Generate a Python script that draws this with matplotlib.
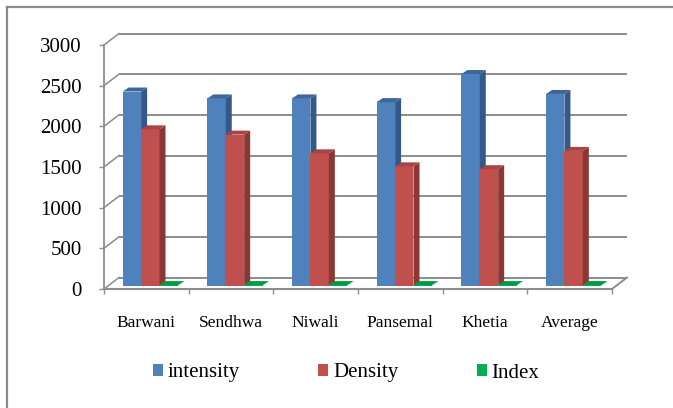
import matplotlib.pyplot as plt
from matplotlib.patches import Polygon, Rectangle, Patch

# --- chart data ---
categories = ['Barwani', 'Sendhwa', 'Niwali', 'Pansemal', 'Khetia', 'Average']
intensity = [2385, 2300, 2300, 2255, 2600, 2355]
density = [1920, 1855, 1625, 1465, 1430, 1655]
index = [5, 5, 5, 5, 5, 5]
series_names = ['intensity', 'Density', 'Index']
yticks = [0, 500, 1000, 1500, 2000, 2500, 3000]

# face colours: front, side, top
colors = {
    'intensity': ('#4F81BD', '#34588A', '#3F6698'),
    'Density': ('#C0504D', '#8A3735', '#A64542'),
    'Index': ('#00B050', '#00833B', '#009A45'),
}
grid_c = '#8C8C8C'

W, H = 673, 408
fig = plt.figure(figsize=(W / 100, H / 100), dpi=100)
plt.rcParams['font.family'] = 'Liberation Serif'

# plot area (front plane) in pixels
x0, x1 = 104, 612
y0, y1 = 289, 45
ax = fig.add_axes([x0 / W, 1 - y0 / H, (x1 - x0) / W, (y0 - y1) / H])
ax.set_xlim(0, 6)
ax.set_ylim(0, 3000)
ax.patch.set_visible(False)

px_x = 6 / (x1 - x0)        # data units per pixel (x)
px_y = 3000 / (y0 - y1)     # data units per pixel (y)

# depth of the wall and of each bar
wall_dx, wall_dy = 15 * px_x, 11.5 * px_y
bar_dx, bar_dy = 6 * px_x, 4 * px_y
bar_base = 3.5 * px_y
bar_w = 18.4 * px_x
bar_off = 18.7 * px_x

# back wall gridlines, side wall lines and floor
for v in yticks:
    ax.plot([wall_dx, 6 + wall_dx], [v + wall_dy, v + wall_dy], color=grid_c, lw=1.4,
            clip_on=False, zorder=1, solid_capstyle='butt')
    ax.plot([0, wall_dx], [v, v + wall_dy], color=grid_c, lw=1.1, clip_on=False, zorder=1)
ax.plot([6, 6 + wall_dx], [0, wall_dy], color=grid_c, lw=1.4, clip_on=False, zorder=1)

# 3-D looking bars
def draw_bar(x, v, name, z):
    front, side, top = colors[name]
    b = bar_base
    ax.add_patch(Rectangle((x, b), bar_w, v, facecolor=front, edgecolor='none',
                           clip_on=False, zorder=z))
    ax.add_patch(Polygon([(x + bar_w, b), (x + bar_w + bar_dx, b + bar_dy),
                          (x + bar_w + bar_dx, b + v + bar_dy), (x + bar_w, b + v)],
                         closed=True, facecolor=side, edgecolor='none', clip_on=False, zorder=z))
    ax.add_patch(Polygon([(x, b + v), (x + bar_w, b + v),
                          (x + bar_w + bar_dx, b + v + bar_dy), (x + bar_dx, b + v + bar_dy)],
                         closed=True, facecolor=top, edgecolor='none', clip_on=False, zorder=z))

z = 3
for i in range(len(categories)):
    for k, (name, vals) in enumerate(zip(series_names, [intensity, density, index])):
        draw_bar(i + bar_off + k * bar_w, vals[i], name, z)
        z += 1

# axes styling
for s in ['top', 'right']:
    ax.spines[s].set_visible(False)
ax.spines['left'].set_color(grid_c)
ax.spines['left'].set_linewidth(1.3)
ax.spines['bottom'].set_color(grid_c)
ax.spines['bottom'].set_linewidth(1.5)
ax.spines['bottom'].set_zorder(50)

ax.set_yticks(yticks)
ax.set_yticklabels([str(v) for v in yticks])
ax.tick_params(axis='y', direction='out', length=3.3, width=1, color=grid_c,
               labelsize=15, pad=12.5)

ax.set_xticks(range(7))
ax.set_xticklabels([''] * 7)
ax.set_xticks([i + 0.5 for i in range(6)], minor=True)
ax.set_xticklabels(categories, minor=True)
ax.tick_params(axis='x', which='major', direction='out', length=3.6, width=1, color=grid_c)
ax.tick_params(axis='x', which='minor', length=0, labelsize=12.5, pad=19)

# outer chart frame (top and left edges)
fig.add_artist(plt.Line2D([7 / W, 1], [1 - 6.5 / H, 1 - 6.5 / H], color=grid_c, lw=1.6))
fig.add_artist(plt.Line2D([7 / W, 7 / W], [0, 1 - 6.5 / H], color=grid_c, lw=1.6))

# legend
handles = [Patch(facecolor=colors[n][0], edgecolor='none') for n in series_names]
fs = 15
em = fs * 100 / 72
fig.legend(handles, series_names, loc='center left', bbox_to_anchor=(153 / W, 1 - 373 / H),
           ncol=3, frameon=False, fontsize=fs, borderpad=0, borderaxespad=0,
           handlelength=10 / em, handleheight=10 / em, handletextpad=5 / em,
           columnspacing=78 / em)

fig.savefig('out.png', dpi=100)
